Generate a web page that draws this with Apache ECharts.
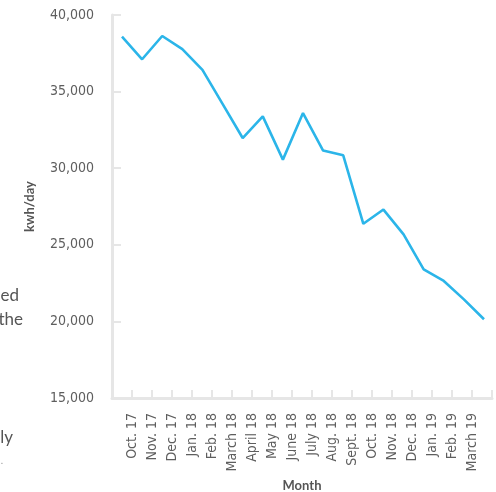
<!DOCTYPE html>
<html>
<head>
<meta charset="utf-8">
<script src="https://cdn.jsdelivr.net/npm/echarts@6/dist/echarts.min.js"></script>
<style>
html,body{margin:0;padding:0;background:#fff;}
#c{width:496px;height:492px;}
</style>
</head>
<body>
<div id="c"></div>
<script>
// Tick labels on the month axis (padded with empty slots at both ends)
const monthLabels = ['', 'Oct. 17', 'Nov. 17', 'Dec. 17', 'Jan. 18', 'Feb. 18', 'March 18', 'April 18',
  'May 18', 'June 18', 'July 18', 'Aug. 18', 'Sept. 18', 'Oct. 18', 'Nov. 18', 'Dec. 18',
  'Jan. 19', 'Feb. 19', 'March 19', ''];
// Line vertices (the drawn line has 19 vertices)
const pointIndex = ['1','2','3','4','5','6','7','8','9','10','11','12','13','14','15','16','17','18','19'];
const kwhPerDay = [38590, 37110, 38630, 37770, 36420, 34200, 31970, 33380, 30560, 33600,
  31150, 30840, 26370, 27300, 25680, 23400, 22640, 21440, 20140];
const yTicks = { min: 15000, max: 40000, interval: 5000 };
// Clipped paragraph fragments at the left edge
const sideText = ['ed', 'the', 'ly', '.'];

const chart = echarts.init(document.getElementById('c'));
const tickFont = "'Liberation Sans Narrow', 'DejaVu Sans Condensed', sans-serif";
const axisGrey = '#e6e6e6';
const labelGrey = '#5e5e5e';
const fmt = v => String(v).replace(/\B(?=(\d{3})+(?!\d))/g, ',');

chart.setOption({
  animation: false,
  grid: [
    { left: 112, right: 4, top: 15, bottom: 94, outerBoundsMode: 'none', containLabel: false },
    { left: 122, right: 12, top: 15, bottom: 94, outerBoundsMode: 'none', containLabel: false }
  ],
  xAxis: [
    {
      gridIndex: 0, type: 'category', data: monthLabels, boundaryGap: false,
      axisLine: { lineStyle: { color: axisGrey, width: 3 } },
      axisTick: { inside: true, length: 8, interval: 0, lineStyle: { color: axisGrey, width: 2 } },
      axisLabel: { rotate: 90, interval: 0, margin: 15, color: labelGrey, fontSize: 14, fontFamily: tickFont },
      name: 'Month', nameLocation: 'middle', nameGap: 78,
      nameTextStyle: { fontWeight: 'bold', fontSize: 13, color: '#555', fontFamily: 'Lato, sans-serif' }
    },
    { gridIndex: 1, type: 'category', data: pointIndex, boundaryGap: false, show: false }
  ],
  yAxis: [
    {
      gridIndex: 0, type: 'value', min: yTicks.min, max: yTicks.max, interval: yTicks.interval,
      axisLine: { show: true, lineStyle: { color: axisGrey, width: 3 } },
      axisTick: { show: true, inside: true, length: 9, lineStyle: { color: axisGrey, width: 2 } },
      splitLine: { show: false },
      axisLabel: { margin: 18, color: labelGrey, fontSize: 14, fontFamily: tickFont, formatter: fmt },
      name: 'kwh/day', nameLocation: 'middle', nameGap: 76,
      nameTextStyle: { fontWeight: 'bold', fontSize: 13, color: '#555', fontFamily: 'Lato, sans-serif' }
    },
    { gridIndex: 1, type: 'value', min: yTicks.min, max: yTicks.max, show: false }
  ],
  series: [{
    type: 'line', xAxisIndex: 1, yAxisIndex: 1, data: kwhPerDay,
    showSymbol: false, symbol: 'none',
    lineStyle: { color: '#2bb5e9', width: 2.6 }
  }],
  graphic: [
    { type: 'text', right: 496 - 19, top: 287, style: { text: sideText[0], fill: '#555', font: '17px Lato, sans-serif' } },
    { type: 'text', right: 496 - 23, top: 311, style: { text: sideText[1], fill: '#555', font: '17px Lato, sans-serif' } },
    { type: 'text', right: 496 - 13, top: 429, style: { text: sideText[2], fill: '#555', font: '17px Lato, sans-serif' } },
    { type: 'text', right: 496 - 3, top: 456, style: { text: sideText[3], fill: '#999', font: '10px Lato, sans-serif' } }
  ]
});
</script>
</body>
</html>
